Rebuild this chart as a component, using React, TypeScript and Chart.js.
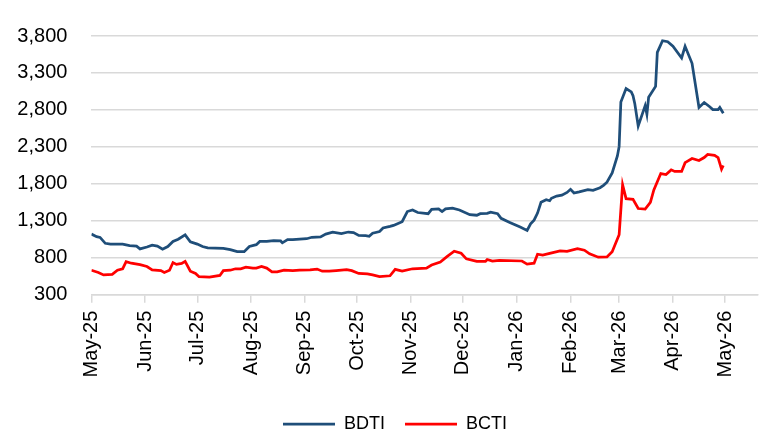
import { useEffect, useRef } from "react";
import { Chart, registerables } from "chart.js";

Chart.register(...registerables);

// Days counted from 1 May 2025
const START_YEAR = 2025;
const START_MONTH = 4; // May (0-based)
const X_MAX_DAY = 384;

const monthLabels = [
  "May-25", "Jun-25", "Jul-25", "Aug-25", "Sep-25", "Oct-25", "Nov-25",
  "Dec-25", "Jan-26", "Feb-26", "Mar-26", "Apr-26", "May-26",
];

const yTickMin = 300;
const yTickMax = 3800;
const yTickStep = 500;

const bdtiDays = [
  0, 3, 5, 8, 11, 18, 22, 26, 28, 32, 35, 38, 41, 44, 47, 50, 54, 57, 61, 64,
  67, 76, 80, 84, 88, 91, 95, 97, 101, 105, 109, 110, 113, 116, 120, 124, 127,
  132, 135, 139, 144, 148, 151, 154, 158, 160, 162, 166, 168, 172, 174, 176,
  179, 182, 185, 188, 194, 196, 200, 202, 204, 208, 212, 218, 222, 224, 228,
  230, 234, 236, 241, 247, 251, 253, 255, 257, 259, 262, 264, 265, 268, 271,
  274, 276, 278, 281, 286, 289, 293, 295, 297, 300, 303, 304, 305, 308, 311,
  312, 313, 315, 319, 320, 321, 325, 326, 329, 332, 335, 340, 342, 346, 350,
  353, 356, 358, 361, 362, 364,
];
const bdtiValues = [
  1120, 1085, 1075, 995, 985, 985, 965, 957, 920, 945, 970, 957, 915, 952, 1020,
  1050, 1110, 1015, 985, 952, 935, 927, 910, 882, 882, 952, 977, 1020, 1020,
  1032, 1027, 1002, 1045, 1045, 1052, 1057, 1077, 1082, 1120, 1145, 1127, 1148,
  1140, 1102, 1098, 1090, 1132, 1155, 1202, 1224, 1237, 1258, 1287, 1425, 1446,
  1412, 1396, 1454, 1462, 1425, 1462, 1471, 1446, 1383, 1375, 1396, 1400, 1416,
  1396, 1333, 1278, 1215, 1170, 1258, 1308, 1404, 1550, 1584, 1571, 1604, 1634,
  1647, 1684, 1726, 1676, 1692, 1722, 1713, 1747, 1780, 1822, 1948, 2177, 2303,
  2908, 3089, 3043, 2992, 2888, 2583, 2858, 2742, 2971, 3118, 3578, 3736, 3723,
  3661, 3503, 3661, 3431, 2833, 2901, 2846, 2804, 2804, 2833, 2754,
];

const bctiDays = [
  0, 4, 7, 12, 15, 18, 20, 23, 28, 32, 35, 40, 42, 45, 47, 49, 52, 54, 57, 60,
  62, 68, 74, 76, 80, 83, 86, 89, 93, 95, 98, 101, 104, 107, 111, 116, 120, 126,
  130, 133, 137, 141, 147, 150, 154, 159, 162, 166, 172, 175, 179, 185, 193, 196,
  201, 205, 209, 213, 216, 222, 227, 228, 231, 235, 248, 251, 255, 257, 260, 264,
  270, 274, 280, 284, 287, 292, 297, 300, 304, 306, 308, 312, 315, 319, 322, 324,
  328, 331, 334, 336, 340, 342, 346, 350, 353, 355, 359, 361, 363, 364,
];
const bctiValues = [
  631, 601, 568, 576, 631, 651, 748, 726, 706, 681, 635, 626, 601, 631, 735, 710,
  723, 751, 618, 588, 543, 538, 560, 626, 631, 651, 651, 672, 660, 660, 681, 660,
  610, 610, 631, 626, 631, 635, 647, 618, 618, 626, 638, 626, 588, 581, 568, 545,
  556, 643, 618, 651, 660, 701, 743, 819, 889, 860, 785, 751, 751, 776, 756, 764,
  756, 714, 726, 848, 835, 860, 894, 886, 923, 902, 852, 807, 810, 882, 1111, 1788,
  1600, 1591, 1466, 1459, 1550, 1717, 1939, 1926, 1989, 1968, 1968, 2086, 2143,
  2115, 2156, 2198, 2186, 2156, 1998, 2048,
];

const FONT = "'Liberation Sans', Arial, sans-serif";
const BLUE = "#1F4E79";
const RED = "#FF0000";
const GRID = "#D9D9D9";

const startMs = Date.UTC(START_YEAR, START_MONTH, 1);
const monthTickDays = monthLabels.map(
  (_, i) => (Date.UTC(START_YEAR, START_MONTH + i, 1) - startMs) / 86400000
);

// Nudges the legend block slightly right, as in the reference layout
const legendShift = {
  id: "legendShift",
  afterLayout(chart: any) {
    const lg = chart.legend;
    if (lg) {
      lg.left += 16;
      lg.right += 16;
    }
  },
};

export default function App() {
  const ref = useRef<HTMLCanvasElement>(null);

  useEffect(() => {
    document.body.style.margin = "0";
    const chart = new Chart(ref.current as HTMLCanvasElement, {
      type: "line",
      data: {
        datasets: [
          {
            label: "BDTI",
            data: bdtiDays.map((d, i) => ({ x: d, y: bdtiValues[i] })),
            borderColor: BLUE,
            backgroundColor: BLUE,
            borderWidth: 2.75,
            pointRadius: 0,
            tension: 0,
          },
          {
            label: "BCTI",
            data: bctiDays.map((d, i) => ({ x: d, y: bctiValues[i] })),
            borderColor: RED,
            backgroundColor: RED,
            borderWidth: 2.75,
            pointRadius: 0,
            tension: 0,
          },
        ],
      },
      options: {
        responsive: false,
        animation: false,
        layout: { padding: { top: 15.5, left: 0, right: 2, bottom: -6 } },
        scales: {
          x: {
            type: "linear",
            min: 0,
            max: X_MAX_DAY,
            afterBuildTicks: (s: any) => {
              s.ticks = monthTickDays.map((v) => ({ value: v }));
            },
            afterFit: (s: any) => {
              s.height = 100.3;
            },
            ticks: {
              autoSkip: false,
              minRotation: 90,
              maxRotation: 90,
              padding: 8,
              color: "#000",
              font: { family: FONT, size: 20 },
              callback: (_v: any, i: number) => monthLabels[i],
            },
            grid: {
              drawOnChartArea: false,
              drawTicks: true,
              tickLength: 8,
              color: GRID,
              lineWidth: 1.5,
            },
            border: { color: GRID, width: 1.5 },
          },
          y: {
            min: yTickMin,
            max: yTickMax,
            afterFit: (s: any) => {
              s.width = 91.4;
            },
            ticks: {
              stepSize: yTickStep,
              padding: 24,
              color: "#000",
              font: { family: FONT, size: 20 },
              callback: (v: any) => Number(v).toLocaleString("en-US"),
            },
            grid: { drawTicks: false, color: GRID, lineWidth: 1.5 },
            border: { display: false },
          },
        },
        plugins: {
          legend: {
            position: "bottom",
            labels: {
              usePointStyle: true,
              pointStyle: "line",
              pointStyleWidth: 52,
              padding: 20,
              color: "#000",
              font: { family: FONT, size: 18 },
            },
          },
          tooltip: { enabled: false },
        },
      },
      plugins: [legendShift],
    });
    return () => chart.destroy();
  }, []);

  return (
    <canvas
      ref={ref}
      width={760}
      height={437}
      style={{ display: "block", width: 760, height: 437 }}
    />
  );
}
